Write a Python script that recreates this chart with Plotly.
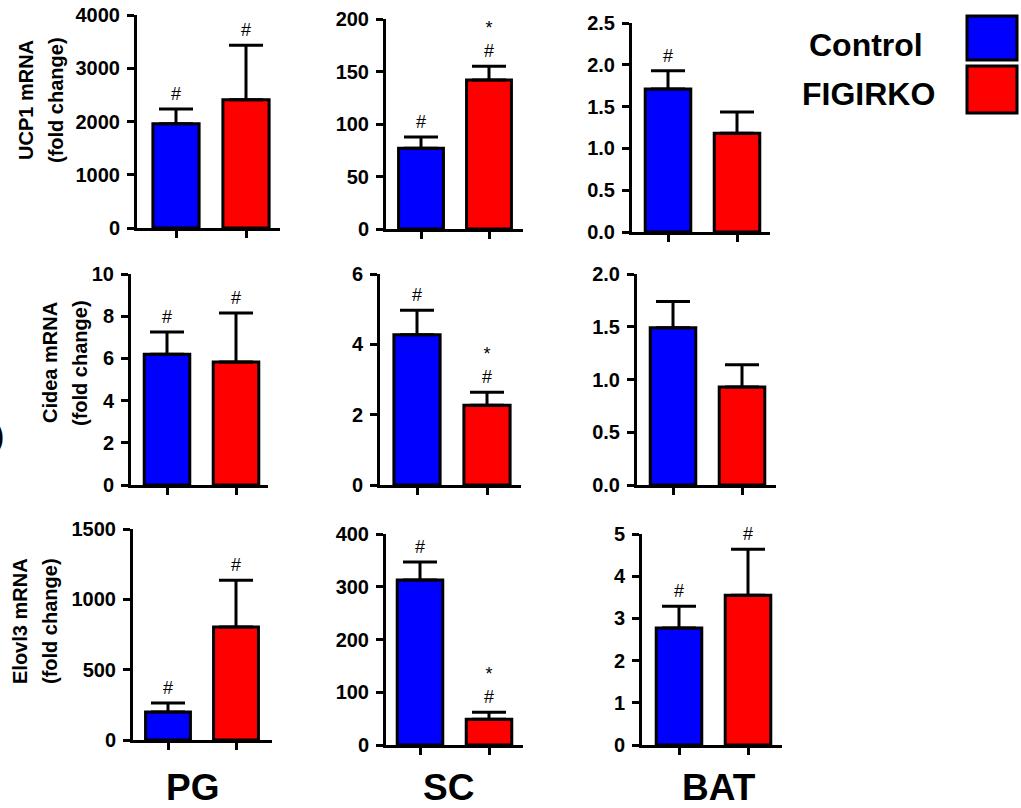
import plotly.graph_objects as go

W, H = 1021, 808

groups = ["Control", "FIGIRKO"]
bar_colors = ["#0000ff", "#ff0000"]
tissues = ["PG", "SC", "BAT"]
genes = ["UCP1", "Cidea", "Elovl3"]

# mean values (Control, FIGIRKO) and upper error (SEM)
ucp1_pg_mean = [1960, 2410]
ucp1_pg_sem = [275, 1020]
ucp1_sc_mean = [77, 142]
ucp1_sc_sem = [10.5, 13]
ucp1_bat_mean = [1.71, 1.18]
ucp1_bat_sem = [0.22, 0.255]

cidea_pg_mean = [6.2, 5.83]
cidea_pg_sem = [1.05, 2.32]
cidea_sc_mean = [4.27, 2.27]
cidea_sc_sem = [0.7, 0.37]
cidea_bat_mean = [1.49, 0.93]
cidea_bat_sem = [0.25, 0.21]

elovl3_pg_mean = [199, 803]
elovl3_pg_sem = [64, 332]
elovl3_sc_mean = [313, 49]
elovl3_sc_sem = [34, 13]
elovl3_bat_mean = [2.77, 3.55]
elovl3_bat_sem = [0.52, 1.09]

# significance marks
ucp1_pg_marks = ["#", "#"]
ucp1_sc_marks = ["#", "*<br>#"]
ucp1_bat_marks = ["#", ""]
cidea_pg_marks = ["#", "#"]
cidea_sc_marks = ["#", "*<br>#"]
cidea_bat_marks = ["", ""]
elovl3_pg_marks = ["#", "#"]
elovl3_sc_marks = ["#", "*<br>#"]
elovl3_bat_marks = ["#", "#"]

# y axis ranges and tick steps
ucp1_ymax = [4000, 200, 2.5]
cidea_ymax = [10, 6, 2]
elovl3_ymax = [1500, 400, 5]
ucp1_dtick = [1000, 50, 0.5]
cidea_dtick = [2, 2, 0.5]
elovl3_dtick = [500, 100, 1]
ucp1_fmt = ["d", "d", ".1f"]
cidea_fmt = ["d", "d", ".1f"]
elovl3_fmt = ["d", "d", "d"]

panels = [
    (ucp1_pg_mean, ucp1_pg_sem, ucp1_pg_marks),
    (ucp1_sc_mean, ucp1_sc_sem, ucp1_sc_marks),
    (ucp1_bat_mean, ucp1_bat_sem, ucp1_bat_marks),
    (cidea_pg_mean, cidea_pg_sem, cidea_pg_marks),
    (cidea_sc_mean, cidea_sc_sem, cidea_sc_marks),
    (cidea_bat_mean, cidea_bat_sem, cidea_bat_marks),
    (elovl3_pg_mean, elovl3_pg_sem, elovl3_pg_marks),
    (elovl3_sc_mean, elovl3_sc_sem, elovl3_sc_marks),
    (elovl3_bat_mean, elovl3_bat_sem, elovl3_bat_marks),
]
ymaxes = ucp1_ymax + cidea_ymax + elovl3_ymax
dticks = ucp1_dtick + cidea_dtick + elovl3_dtick
fmts = ucp1_fmt + cidea_fmt + elovl3_fmt

# layout in pixels: (x axis start, x axis end, bar0 center, bar1 center), (y top, y zero)
xpix = [
    (137, 280, 176, 246), (386, 523, 421, 489), (632, 770, 668, 737),
    (131, 268, 167, 236), (380, 521, 417, 487), (637, 776, 673, 742),
    (133, 272, 168, 236), (386, 523, 420, 489), (642, 782, 679, 748),
]
ypix = [
    (15, 228), (19, 229), (23, 232),
    (274, 485), (274, 485), (274, 485),
    (529, 740), (534, 745), (534, 745),
]

FONT = "Liberation Sans, Arial, sans-serif"


def px(x):
    return x / W


def py(y):
    return 1 - y / H


fig = go.Figure()
annotations = []
layout = {}

for i, ((mean, sem, marks), ymax, dt, fmt, xp, yp) in enumerate(
        zip(panels, ymaxes, dticks, fmts, xpix, ypix)):
    n = i + 1
    xa = "x" if n == 1 else f"x{n}"
    ya = "y" if n == 1 else f"y{n}"
    fig.add_trace(go.Bar(
        x=[0, 1], y=mean, xaxis=xa, yaxis=ya,
        marker=dict(color=bar_colors, line=dict(color="black", width=3)),
        width=0.66,
        error_y=dict(type="data", symmetric=False, array=sem, arrayminus=[0, 0],
                     color="black", thickness=3, width=17),
        showlegend=False, hoverinfo="skip",
    ))
    a0, a1, c0, c1 = xp
    sp = c1 - c0
    rng = [(a0 - c0) / sp, (a1 - c0) / sp]
    top, zero = yp
    layout["xaxis" if n == 1 else f"xaxis{n}"] = dict(
        domain=[px(a0), px(a1)], range=rng, anchor=ya,
        showline=True, linewidth=3, linecolor="black",
        ticks="outside", ticklen=7, tickwidth=3, tickcolor="black",
        tickvals=[0, 1], showticklabels=False, showgrid=False, zeroline=False,
        fixedrange=True,
    )
    layout["yaxis" if n == 1 else f"yaxis{n}"] = dict(
        domain=[py(zero), py(top)], range=[0, ymax], anchor=xa,
        showline=True, linewidth=3, linecolor="black",
        ticks="outside", ticklen=7, tickwidth=3, tickcolor="black",
        dtick=dt, tick0=0, tickformat=fmt, ticklabelstandoff=3,
        tickfont=dict(family=FONT, size=20, color="black", weight="bold"),
        showgrid=False, zeroline=False, fixedrange=True,
    )
    for k in range(2):
        if marks[k]:
            annotations.append(dict(
                x=k, y=mean[k] + sem[k], xref=xa, yref=ya, text=marks[k],
                showarrow=False, yanchor="bottom", xanchor="center", yshift=3,
                font=dict(family=FONT, size=18, color="black"),
            ))

# y-axis titles: (line1 x, line2 x, y center)
title_pos = [(26, 56, 100), (50, 80, 363), (20, 50, 621)]
for g, (x1, x2, ty) in zip(genes, title_pos):
    for txt, tx in [(f"{g} mRNA", x1), ("(fold change)", x2)]:
        annotations.append(dict(
            x=px(tx), y=py(ty), xref="paper", yref="paper",
            text=txt, textangle=-90, showarrow=False,
            xanchor="center", yanchor="middle",
            font=dict(family=FONT, size=20, color="black", weight="bold"),
        ))

# tissue labels
for t, tx in zip(tissues, [192, 448, 719]):
    annotations.append(dict(
        x=px(tx), y=py(787), xref="paper", yref="paper", text=t,
        showarrow=False, xanchor="center", yanchor="middle",
        font=dict(family=FONT, size=37, color="black", weight="bold"),
    ))

# legend
shapes = []
leg_text = [(866, 45), (868, 94)]
leg_box = [(16, 60), (66, 113)]
for g, c, (lx, ly), (b0, b1) in zip(groups, bar_colors, leg_text, leg_box):
    annotations.append(dict(
        x=px(lx), y=py(ly), xref="paper", yref="paper", text=g,
        showarrow=False, xanchor="center", yanchor="middle",
        font=dict(family=FONT, size=32, color="black", weight="bold"),
    ))
    shapes.append(dict(
        type="rect", xref="paper", yref="paper",
        x0=px(967), x1=px(1017), y0=py(b1), y1=py(b0),
        fillcolor=c, line=dict(color="black", width=3),
    ))

# cropped panel letter fragment at the left edge
annotations.append(dict(
    x=px(6), y=py(435), xref="paper", yref="paper", text=")",
    showarrow=False, xanchor="right", yanchor="middle",
    font=dict(family=FONT, size=30, color="black", weight="bold"),
))

fig.update_layout(
    width=W, height=H,
    margin=dict(l=0, r=0, t=0, b=0, pad=0, autoexpand=False),
    paper_bgcolor="white", plot_bgcolor="white",
    annotations=annotations, shapes=shapes,
    **layout,
)

fig.write_html(
    "out.html",
    config={"responsive": False, "displayModeBar": False},
    post_script="document.body.style.margin='0px';document.body.style.overflow='hidden';",
)
